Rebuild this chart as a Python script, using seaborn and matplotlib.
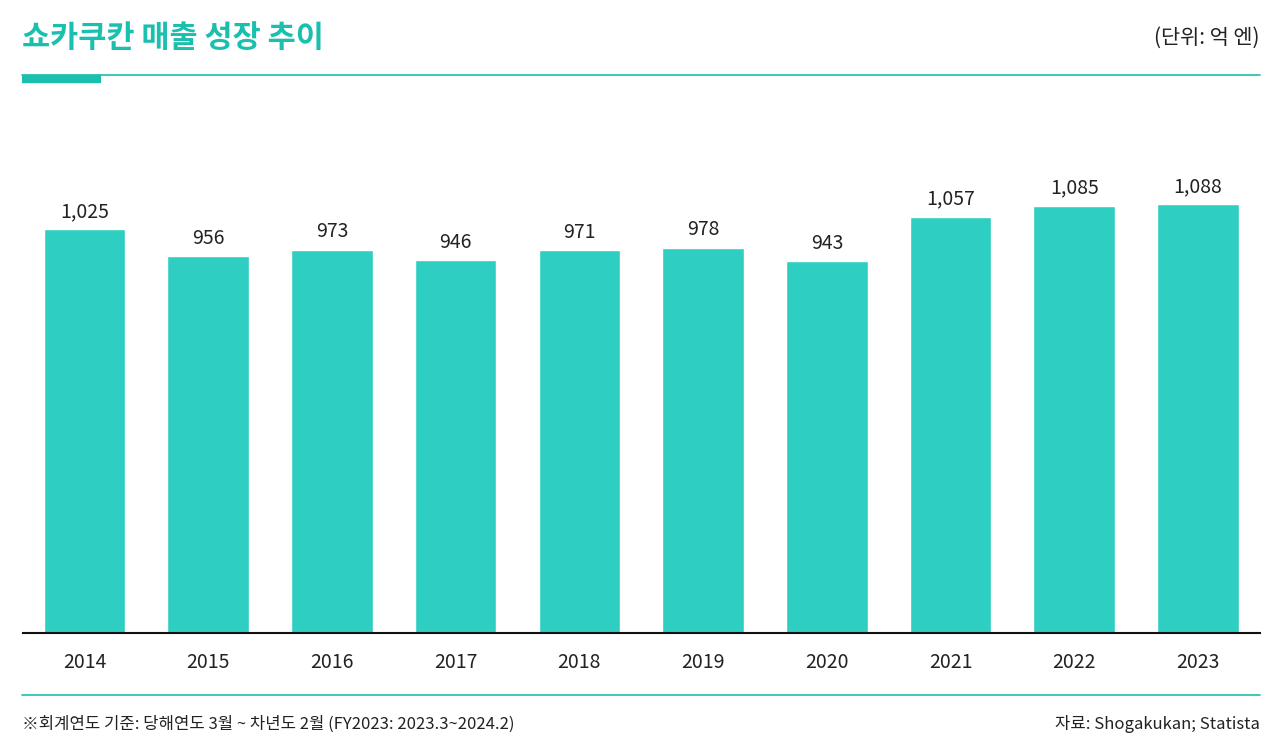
import matplotlib
matplotlib.use("Agg")
import matplotlib.pyplot as plt
import seaborn as sns
import pandas as pd
from matplotlib.lines import Line2D

years = ["2014","2015","2016","2017","2018","2019","2020","2021","2022","2023"]
sales = [1025, 956, 973, 946, 971, 978, 943, 1057, 1085, 1088]

sns.set_theme(style="white")
plt.rcParams['font.family'] = ['Noto Sans CJK KR', 'DejaVu Sans']

W, H = 1280, 749
fig = plt.figure(figsize=(W/100, H/100), dpi=100)
ax = fig.add_axes([22.6/W, 1-633/H, (1259.9-22.6)/W, (633-100)/H])
df = pd.DataFrame({"year": years, "sales": sales})
sns.barplot(data=df, x="year", y="sales", color="#2ecfc2", saturation=1, width=0.66, ax=ax)
ax.set_xlim(-0.5, 9.5)
ax.set_ylim(0, 533/0.394)
for i, v in enumerate(sales):
    ax.text(i, v + 45, f"{v:,}", ha="center", va="center", fontsize=14, color="#222222")
for s in ["top", "right", "left"]:
    ax.spines[s].set_visible(False)
ax.spines["bottom"].set_color("#111111")
ax.spines["bottom"].set_linewidth(1.5)
ax.set_yticks([])
ax.set_xlabel(""); ax.set_ylabel("")
ax.tick_params(axis="x", length=0, labelsize=14, pad=14, colors="#222222")

teal = "#1bbfae"
fig.text(22/W, 1-38/H, "쇼카쿠칸 매출 성장 추이", fontsize=22, fontweight="bold", color=teal, va="center", ha="left")
fig.text(1260/W, 1-38/H, "(단위: 억 엔)", fontsize=15, color="#222222", va="center", ha="right")
fig.add_artist(Line2D([22/W, 1260/W], [1-75/H, 1-75/H], color=teal, lw=1.2))
fig.add_artist(Line2D([22/W, 101/W], [1-79/H, 1-79/H], color=teal, lw=6, solid_capstyle="butt"))
fig.add_artist(Line2D([22/W, 1260/W], [1-695/H, 1-695/H], color=teal, lw=1.2))
fig.text(22/W, 1-724/H, "※회계연도 기준: 당해연도 3월 ~ 차년도 2월 (FY2023: 2023.3~2024.2)", fontsize=12, color="#222222", va="center", ha="left")
fig.text(1260/W, 1-724/H, "자료: Shogakukan; Statista", fontsize=12, color="#222222", va="center", ha="right")

fig.savefig("out.png", dpi=100)
